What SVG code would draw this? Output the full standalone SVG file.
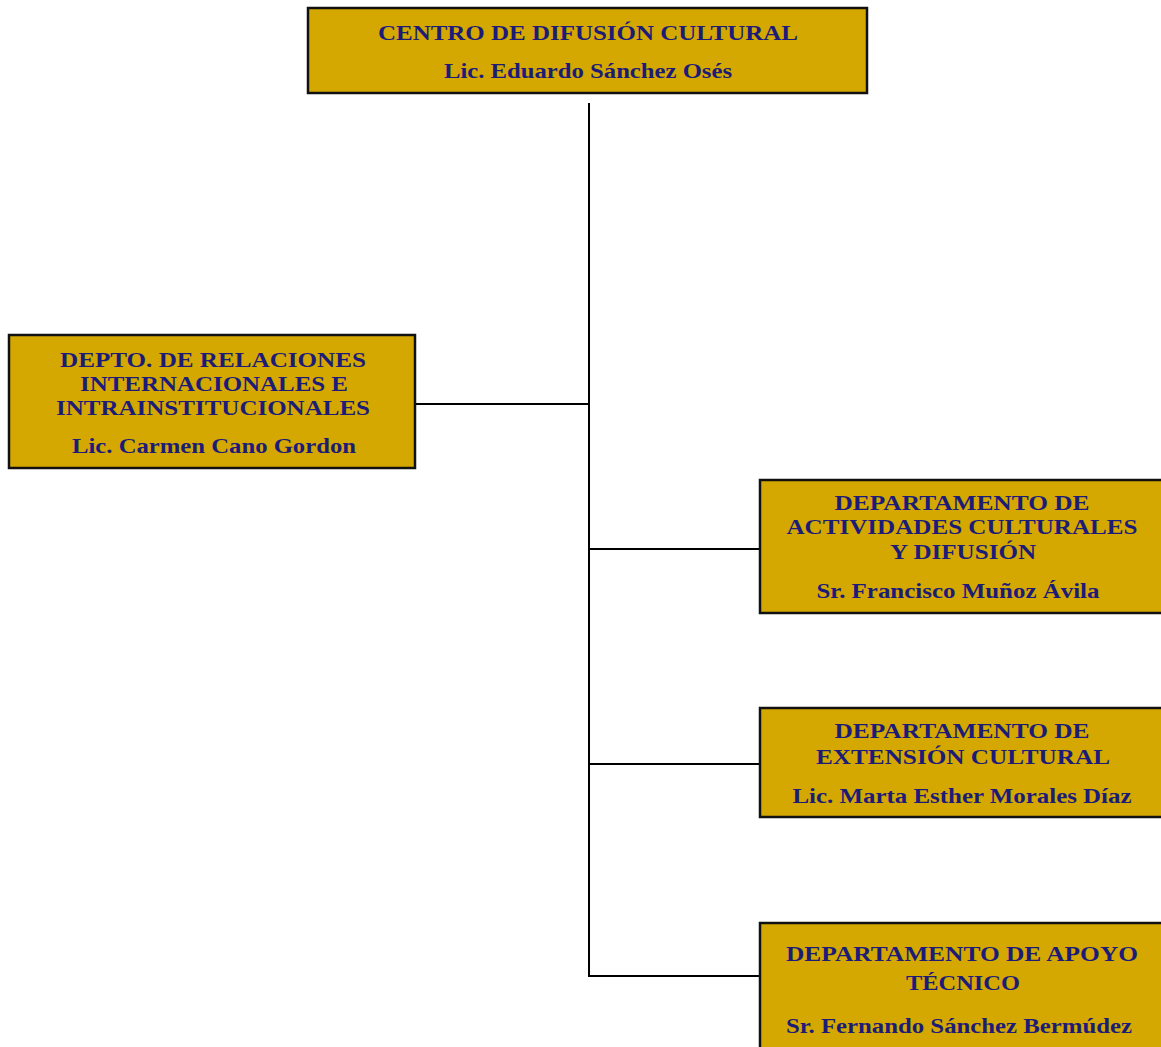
<svg xmlns="http://www.w3.org/2000/svg" width="1161" height="1047" viewBox="0 0 1161 1047">
<style>
.box{fill:#D4A800;stroke:#111;stroke-width:2.5}
.t{font-family:"Liberation Serif","Times New Roman",serif;font-weight:bold;font-size:22px;fill:#1c1c78;text-anchor:middle}
.c{stroke:#000;stroke-width:2;fill:none}
</style>
<rect width="1161" height="1047" fill="#fff"/>
<g id="connectors">
<line class="c" x1="589" y1="103" x2="589" y2="977"/>
<line class="c" x1="415" y1="404" x2="589" y2="404"/>
<line class="c" x1="589" y1="549" x2="760" y2="549"/>
<line class="c" x1="589" y1="764" x2="760" y2="764"/>
<line class="c" x1="589" y1="976" x2="760" y2="976"/>
</g>
<g id="node-centro">
<rect class="box" x="308" y="8" width="559" height="85"/>
<text class="t" x="588" y="40" textLength="420" lengthAdjust="spacingAndGlyphs">CENTRO DE DIFUSIÓN CULTURAL</text>
<text class="t" x="588" y="78" textLength="288" lengthAdjust="spacingAndGlyphs">Lic. Eduardo Sánchez Osés</text>
</g>
<g id="node-relaciones">
<rect class="box" x="9" y="335" width="406" height="133"/>
<text class="t" x="213" y="367" textLength="306" lengthAdjust="spacingAndGlyphs">DEPTO. DE RELACIONES</text>
<text class="t" x="214" y="391" textLength="268" lengthAdjust="spacingAndGlyphs">INTERNACIONALES E</text>
<text class="t" x="213" y="415" textLength="314" lengthAdjust="spacingAndGlyphs">INTRAINSTITUCIONALES</text>
<text class="t" x="214" y="453" textLength="284" lengthAdjust="spacingAndGlyphs">Lic. Carmen Cano Gordon</text>
</g>
<g id="node-actividades">
<rect class="box" x="760" y="480" width="410" height="133"/>
<text class="t" x="962" y="510" textLength="255" lengthAdjust="spacingAndGlyphs">DEPARTAMENTO DE</text>
<text class="t" x="962" y="534" textLength="351" lengthAdjust="spacingAndGlyphs">ACTIVIDADES CULTURALES</text>
<text class="t" x="963" y="559" textLength="146" lengthAdjust="spacingAndGlyphs">Y DIFUSIÓN</text>
<text class="t" x="958" y="598" textLength="283" lengthAdjust="spacingAndGlyphs">Sr. Francisco Muñoz Ávila</text>
</g>
<g id="node-extension">
<rect class="box" x="760" y="708" width="410" height="109"/>
<text class="t" x="962" y="738" textLength="255" lengthAdjust="spacingAndGlyphs">DEPARTAMENTO DE</text>
<text class="t" x="963" y="764" textLength="294" lengthAdjust="spacingAndGlyphs">EXTENSIÓN CULTURAL</text>
<text class="t" x="962" y="803" textLength="339" lengthAdjust="spacingAndGlyphs">Lic. Marta Esther Morales Díaz</text>
</g>
<g id="node-apoyo">
<rect class="box" x="760" y="923" width="410" height="140"/>
<text class="t" x="962" y="961" textLength="352" lengthAdjust="spacingAndGlyphs">DEPARTAMENTO DE APOYO</text>
<text class="t" x="963" y="990" textLength="114" lengthAdjust="spacingAndGlyphs">TÉCNICO</text>
<text class="t" x="959" y="1033" textLength="346" lengthAdjust="spacingAndGlyphs">Sr. Fernando Sánchez Bermúdez</text>
</g>
</svg>
